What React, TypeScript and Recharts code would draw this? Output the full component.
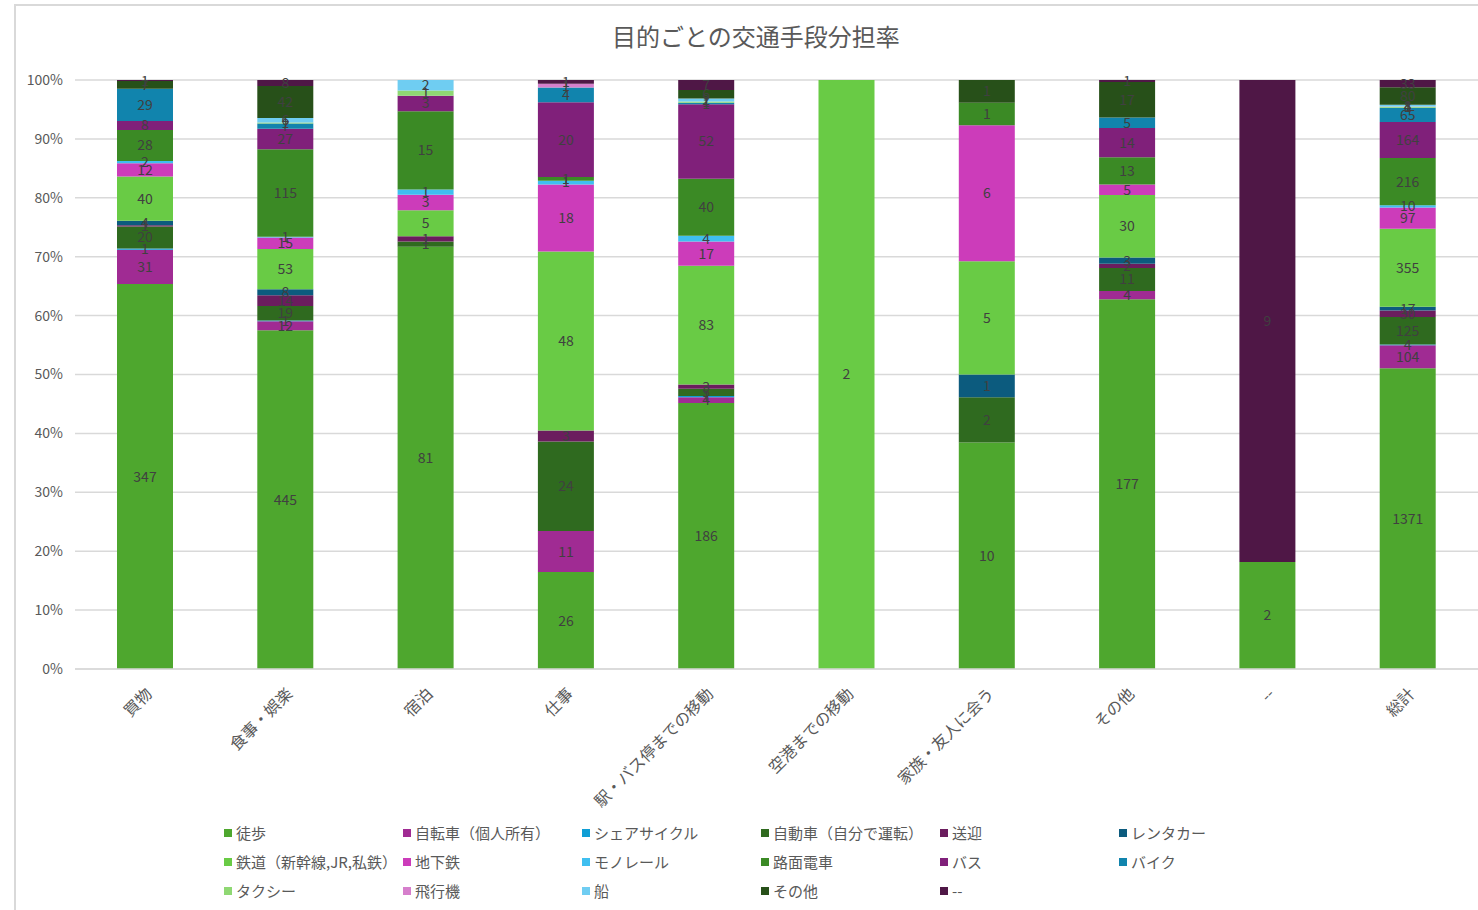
import React from 'react';
import { BarChart, Bar, XAxis, YAxis, CartesianGrid, LabelList } from 'recharts';

const categories = ['買物', '食事・娯楽', '宿泊', '仕事', '駅・バス停までの移動', '空港までの移動', '家族・友人に会う', 'その他', '--', '総計'];

const seriesNames = ['徒歩', '自転車（個人所有）', 'シェアサイクル', '自動車（自分で運転）', '送迎', 'レンタカー', '鉄道（新幹線,JR,私鉄）', '地下鉄', 'モノレール', '路面電車', 'バス', 'バイク', 'タクシー', '飛行機', '船', 'その他', '--'];

const seriesColors = ['#4ea72e', '#a02b93', '#0f9ed5', '#2f6a1f', '#6b1d5e', '#0c5b7e', '#69cb45', '#cc3cba', '#3fbff0', '#3b8a25', '#80207a', '#1184ad', '#8fd873', '#d67fcc', '#6fcdf2', '#275019', '#4f1746'];

const walk = [347, 445, 81, 26, 186, 0, 10, 177, 2, 1371];
const bicycle = [31, 12, 0, 11, 4, 0, 0, 4, 0, 104];
const shareCycle = [1, 1, 0, 0, 1, 0, 0, 0, 0, 4];
const car = [20, 19, 1, 24, 5, 0, 2, 11, 0, 125];
const pickup = [1, 14, 1, 3, 3, 0, 0, 2, 0, 30];
const rentalCar = [4, 8, 0, 0, 0, 0, 1, 3, 0, 17];
const rail = [40, 53, 5, 48, 83, 2, 5, 30, 0, 355];
const subway = [12, 15, 3, 18, 17, 0, 6, 5, 0, 97];
const monorail = [2, 1, 1, 1, 4, 0, 0, 0, 0, 10];
const tram = [28, 115, 15, 1, 40, 0, 1, 13, 0, 216];
const bus = [8, 27, 3, 20, 52, 0, 0, 14, 0, 164];
const motorbike = [29, 7, 0, 4, 1, 0, 0, 5, 0, 65];
const taxi = [0, 1, 1, 0, 1, 0, 0, 0, 0, 4];
const airplane = [0, 0, 0, 1, 0, 0, 0, 0, 0, 1];
const ship = [0, 6, 2, 0, 2, 0, 0, 0, 0, 8];
const other = [7, 42, 0, 0, 6, 0, 1, 17, 0, 80];
const dash = [1, 8, 0, 1, 7, 0, 0, 1, 9, 33];

const seriesValues = [walk, bicycle, shareCycle, car, pickup, rentalCar, rail, subway, monorail, tram, bus, motorbike, taxi, airplane, ship, other, dash];

const yTicks = [0, 0.1, 0.2, 0.3, 0.4, 0.5, 0.6, 0.7, 0.8, 0.9, 1];

const data = categories.map((c, i) => {
  const row: Record<string, any> = { name: c };
  seriesValues.forEach((arr, s) => {
    row['s' + s] = arr[i];
  });
  return row;
});

const FONT = '"Noto Sans CJK JP", "Noto Sans", sans-serif';

const XTick = (props: any) => {
  const { x, y, payload } = props;
  return (
    <g transform={`translate(${x + 8},${y + 18})`}>
      <text transform="rotate(-45)" textAnchor="end" fill="#595959" fontSize={16} fontFamily={FONT}>
        {payload.value}
      </text>
    </g>
  );
};

export default function App() {
  return (
    <div style={{ position: 'absolute', left: 0, top: 0, width: 1478, height: 910, background: '#fff', fontFamily: FONT }}>
      <div style={{ position: 'absolute', left: 14, top: 4, right: 0, bottom: 0, borderLeft: '2px solid #d9d9d9', borderTop: '2px solid #d9d9d9' }} />
      <div style={{ position: 'absolute', left: 556, width: 400, top: 18, textAlign: 'center', fontSize: 24, color: '#595959' }}>
        目的ごとの交通手段分担率
      </div>
      <div style={{ position: 'absolute', left: 0, top: 0 }}>
        <BarChart width={1478} height={910} data={data} stackOffset="expand" margin={{ top: 80, right: 0, left: 0, bottom: 0 }}>
          <CartesianGrid vertical={false} stroke="#d9d9d9" strokeWidth={1.5} />
          <XAxis dataKey="name" height={241} tickLine={false} axisLine={{ stroke: '#d9d9d9', strokeWidth: 1.5 }} tick={<XTick />} interval={0} />
          <YAxis width={75} ticks={yTicks} domain={[0, 1]} tickFormatter={(v: number) => `${Math.round(v * 100)}%`} tickLine={false} axisLine={false} tickSize={0} tickMargin={12} tick={{ fill: '#595959', fontSize: 14, fontFamily: FONT }} />
          {seriesNames.map((n, s) => (
            <Bar key={n} dataKey={'s' + s} name={n} stackId="a" fill={seriesColors[s]} barSize={56} isAnimationActive={false}>
              <LabelList dataKey={'s' + s} position="center" formatter={(v: any) => (v ? String(v) : '')} fill="#404040" fontSize={14} fontFamily={FONT} />
            </Bar>
          ))}
        </BarChart>
      </div>
      {seriesNames.map((n, s) => {
        const col = s % 6;
        const row = Math.floor(s / 6);
        return (
          <div key={n} style={{ position: 'absolute', left: 224 + col * 179, top: 822 + row * 29, display: 'flex', alignItems: 'center', fontSize: 15, color: '#595959', whiteSpace: 'nowrap' }}>
            <span style={{ display: 'inline-block', width: 8, height: 8, background: seriesColors[s], marginRight: 4 }} />
            {n}
          </div>
        );
      })}
    </div>
  );
}
